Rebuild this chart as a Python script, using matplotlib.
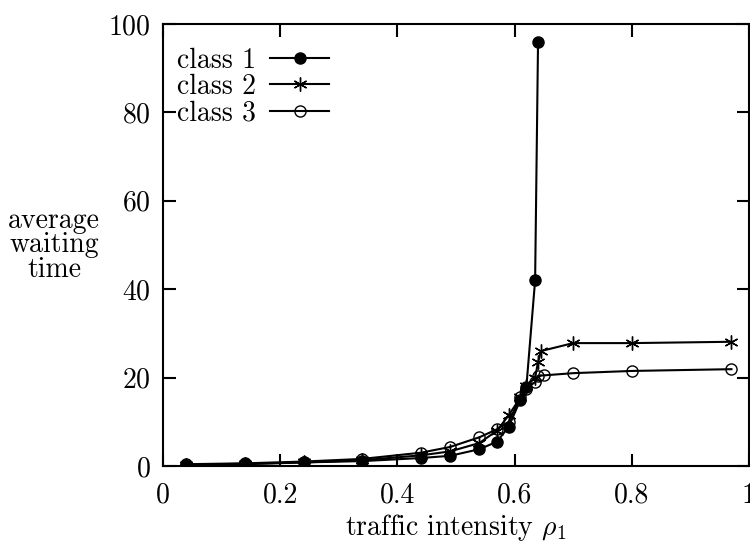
import numpy as np
import matplotlib
matplotlib.use("Agg")
import matplotlib.pyplot as plt

plt.rcParams['font.family'] = ['cmr10', 'DejaVu Serif']
plt.rcParams['mathtext.fontset'] = 'cm'
plt.rcParams['axes.formatter.use_mathtext'] = True

# traffic intensity rho_1 and average waiting time per class
rho_c1 = [0.04, 0.14, 0.24, 0.34, 0.44, 0.49, 0.54, 0.57, 0.59, 0.61, 0.62, 0.635, 0.64]
wait_c1 = [0.3, 0.4, 0.8, 1.1, 1.8, 2.3, 3.8, 5.5, 8.9, 15.0, 17.8, 42.0, 96.0]

rho_c2 = [0.04, 0.14, 0.24, 0.34, 0.44, 0.49, 0.54, 0.57, 0.59, 0.61, 0.62, 0.635, 0.64, 0.645, 0.70, 0.80, 0.97]
wait_c2 = [0.3, 0.5, 0.8, 1.3, 2.4, 3.3, 5.2, 8.0, 11.5, 15.5, 18.0, 20.0, 23.5, 26.0, 27.8, 27.8, 28.1]

rho_c3 = [0.04, 0.14, 0.24, 0.34, 0.44, 0.49, 0.54, 0.57, 0.59, 0.61, 0.62, 0.635, 0.64, 0.65, 0.70, 0.80, 0.97]
wait_c3 = [0.4, 0.6, 1.0, 1.6, 3.0, 4.3, 6.5, 8.3, 10.0, 15.6, 17.5, 19.0, 20.4, 20.5, 21.0, 21.5, 21.9]

xticks = [0, 0.2, 0.4, 0.6, 0.8, 1]
xticklabels = ['0', '0.2', '0.4', '0.6', '0.8', '1']
yticks = [0, 20, 40, 60, 80, 100]

fig = plt.figure(figsize=(7.5, 5.45), dpi=100)
ax = fig.add_axes([0.2173, 0.145, 0.7814, 0.811])

ax.plot(rho_c1, wait_c1, color='black', lw=1.5, marker='o', ms=8,
        mfc='black', mec='black', label='class 1')
ax.plot(rho_c2, wait_c2, color='black', lw=1.5, marker=(6, 2, 0), ms=10,
        mew=1.0, label='class 2')
ax.plot(rho_c3, wait_c3, color='black', lw=1.5, marker='o', ms=8,
        mfc='none', mec='black', mew=1.0, label='class 3')

ax.set_xlim(0, 1)
ax.set_ylim(0, 100)
ax.set_xticks(xticks)
ax.set_xticklabels(xticklabels)
ax.set_yticks(yticks)
ax.tick_params(direction='in', length=9, width=1.5, top=True, right=True,
               labelsize=20, pad=9)
ax.tick_params(axis='x', pad=12)
for s in ax.spines.values():
    s.set_linewidth(1.5)

ax.set_xlabel(r'traffic intensity $\rho_1$', fontsize=20, labelpad=2)
fig.text(0.072, 0.55, 'average\nwaiting\ntime', ha='center', va='center',
         fontsize=20, linespacing=0.9)

ax.legend(loc='upper left', bbox_to_anchor=(-0.005, 0.985), frameon=False,
          markerfirst=False, fontsize=20, handlelength=2.15,
          handletextpad=0.5, labelspacing=0.0, borderaxespad=0.2)

fig.savefig('out.png', dpi=100)
